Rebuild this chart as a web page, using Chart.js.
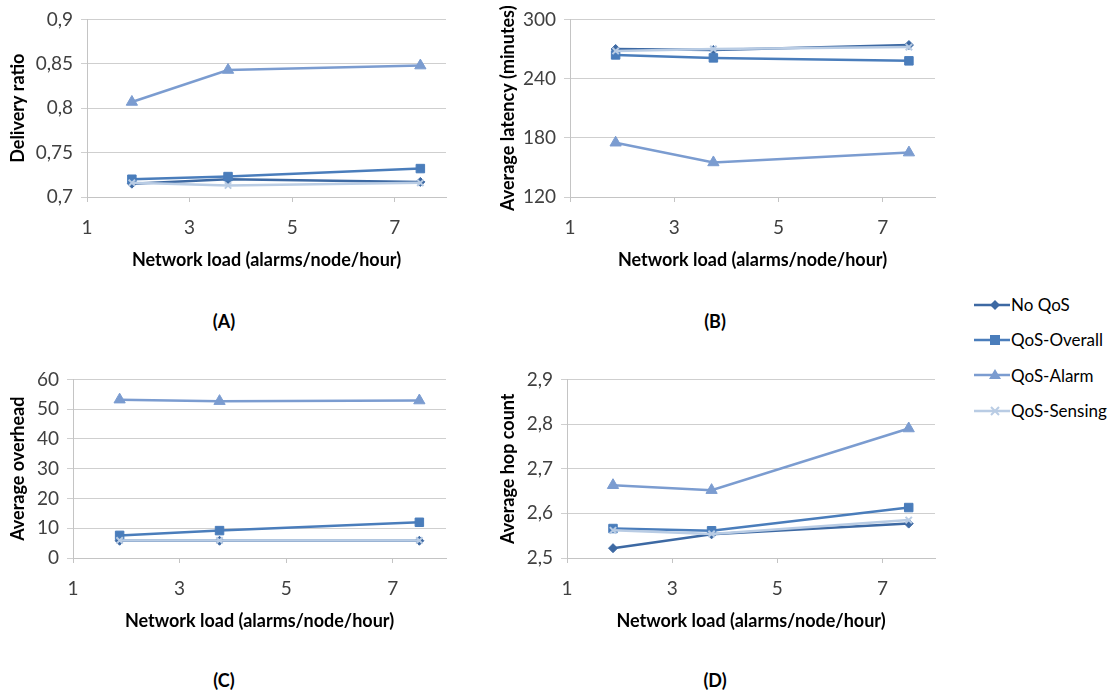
<!DOCTYPE html>
<html><head><meta charset="utf-8">
<script src="https://cdn.jsdelivr.net/npm/chart.js@4.4.0/dist/chart.umd.min.js"></script>
<style>
body{margin:0;background:#fff;width:1118px;height:693px;position:relative;overflow:hidden;font-family:Lato,"Open Sans",sans-serif;}
.pc{position:absolute;}
.lbl{position:absolute;font-weight:bold;font-size:18px;color:#000;transform:translate(-50%,-50%);white-space:nowrap;}
#legend{position:absolute;left:974px;top:287px;}
.li{display:flex;align-items:center;height:35.3px;font-size:17px;color:#000;white-space:nowrap;}
.li svg{margin-right:1px;}
</style></head><body>
<div class="pc" style="left:0;top:0;width:480px;height:285px"><canvas id="cA"></canvas></div>
<div class="pc" style="left:490px;top:0;width:470px;height:285px"><canvas id="cB"></canvas></div>
<div class="pc" style="left:0;top:360px;width:480px;height:290px"><canvas id="cC"></canvas></div>
<div class="pc" style="left:490px;top:360px;width:470px;height:290px"><canvas id="cD"></canvas></div>
<div class="lbl" style="left:224px;top:321px">(A)</div>
<div class="lbl" style="left:715px;top:321px">(B)</div>
<div class="lbl" style="left:224px;top:680px">(C)</div>
<div class="lbl" style="left:715px;top:680px">(D)</div>
<div id="legend"></div>
<script>
// ---- data ----
const loads = [1.875, 3.75, 7.5];
const seriesNames = ['No QoS', 'QoS-Overall', 'QoS-Alarm', 'QoS-Sensing'];
const xTickValues = [1, 3, 5, 7];

const deliveryNoQoS   = [0.715, 0.720, 0.717];
const deliveryOverall = [0.720, 0.723, 0.732];
const deliveryAlarm   = [0.807, 0.843, 0.848];
const deliverySensing = [0.716, 0.713, 0.716];
const deliveryTicks   = [0.7, 0.75, 0.8, 0.85, 0.9];

const latencyNoQoS   = [270, 269, 274];
const latencyOverall = [264, 261, 258];
const latencyAlarm   = [175, 155, 165];
const latencySensing = [268, 270, 272];
const latencyTicks   = [120, 180, 240, 300];

const overheadNoQoS   = [5.8, 5.8, 5.8];
const overheadOverall = [7.6, 9.2, 12.0];
const overheadAlarm   = [53.2, 52.7, 52.9];
const overheadSensing = [5.9, 5.9, 5.9];
const overheadTicks   = [0, 10, 20, 30, 40, 50, 60];

const hopNoQoS   = [2.522, 2.553, 2.577];
const hopOverall = [2.566, 2.561, 2.613];
const hopAlarm   = [2.663, 2.652, 2.790];
const hopSensing = [2.562, 2.554, 2.585];
const hopTicks   = [2.5, 2.6, 2.7, 2.8, 2.9];

const xTitle = 'Network load (alarms/node/hour)';

// ---- styles ----
const colors = ['#3d69a3', '#4a7dbb', '#7b9cd0', '#b9cce4'];
const pStyles = ['rectRot', 'rect', 'triangle', 'crossRot'];
const pRadius = [4.5, 6, 6.5, 4.5];
const FONT = 'Lato, "Open Sans", sans-serif';
const TITLE_SIZE = 18;

function fmt(v){ return String(parseFloat(v.toFixed(3))).replace('.', ','); }

function makePanel(id, box, plot, yTitle, yTicks, series, xTitleY, yTitleX){
  const lhT = TITLE_SIZE*1.2;
  const ds = series.map((vals, i) => ({
    label: seriesNames[i],
    data: loads.map((x, k) => ({x: x, y: vals[k]})),
    borderColor: colors[i], backgroundColor: colors[i],
    borderWidth: 2.5, pointStyle: pStyles[i], pointRadius: pRadius[i],
    pointBorderWidth: i === 3 ? 2 : 1, pointBorderColor: colors[i],
    pointBackgroundColor: colors[i], tension: 0, clip: false, order: 4 - i
  }));
  new Chart(document.getElementById(id), {
    type: 'line',
    data: {datasets: ds},
    options: {
      responsive: true, maintainAspectRatio: false, animation: false,
      layout: {padding: {left: 0, top: plot.t - box.t, right: box.l + box.w - plot.r, bottom: 0}},
      plugins: {legend: {display: false}, tooltip: {enabled: false}},
      scales: {
        x: {
          type: 'linear', min: 1, max: 8,
          afterBuildTicks: s => { s.ticks = xTickValues.map(v => ({value: v})); },
          afterFit: s => { s.height = box.t + box.h - plot.b; },
          grid: {display: true, drawOnChartArea: false, drawTicks: true, tickLength: 5, color: '#c4c4c4', lineWidth: 1},
          border: {display: true, color: '#c4c4c4', width: 1},
          ticks: {color: '#404040', font: {family: FONT, size: 19}, padding: 14, maxRotation: 0, callback: v => fmt(v)},
          title: {display: true, text: xTitle, color: '#000', font: {family: FONT, size: TITLE_SIZE, weight: 'bold'},
                  padding: {top: 0, bottom: box.t + box.h - xTitleY - lhT/2}}
        },
        y: {
          type: 'linear', min: yTicks[0], max: yTicks[yTicks.length - 1],
          afterBuildTicks: s => { s.ticks = yTicks.map(v => ({value: v})); },
          afterFit: s => { s.width = plot.l - box.l; },
          grid: {display: true, drawTicks: true, tickLength: 6, color: '#cfcfcf', lineWidth: 1},
          border: {display: true, color: '#c4c4c4', width: 1},
          ticks: {color: '#404040', font: {family: FONT, size: 19}, padding: 8, callback: v => fmt(v)},
          title: {display: true, text: yTitle, color: '#000', font: {family: FONT, size: TITLE_SIZE, weight: 'bold'},
                  padding: {top: yTitleX - box.l - lhT/2, bottom: 0}}
        }
      }
    }
  });
}

makePanel('cA', {l:0, t:0, w:480, h:285}, {l:87, t:17, r:446, b:197}, 'Delivery ratio', deliveryTicks,
  [deliveryNoQoS, deliveryOverall, deliveryAlarm, deliverySensing], 260, 18);
makePanel('cB', {l:490, t:0, w:470, h:285}, {l:570, t:17, r:935, b:197}, 'Average latency (minutes)', latencyTicks,
  [latencyNoQoS, latencyOverall, latencyAlarm, latencySensing], 260, 508);
makePanel('cC', {l:0, t:360, w:480, h:290}, {l:73, t:377, r:446, b:558}, 'Average overhead', overheadTicks,
  [overheadNoQoS, overheadOverall, overheadAlarm, overheadSensing], 621, 18);
makePanel('cD', {l:490, t:360, w:470, h:290}, {l:567, t:377, r:935, b:558}, 'Average hop count', hopTicks,
  [hopNoQoS, hopOverall, hopAlarm, hopSensing], 621, 508);

// ---- legend ----
const markerSvg = [
  c => `<polygon points="21,3 26,8 21,13 16,8" fill="${c}"/>`,
  c => `<rect x="16" y="3" width="10" height="10" fill="${c}"/>`,
  c => `<polygon points="21,2 27,12 15,12" fill="${c}"/>`,
  c => `<path d="M17,4 L25,12 M25,4 L17,12" stroke="${c}" stroke-width="2"/>`
];
const leg = document.getElementById('legend');
seriesNames.forEach((n, i) => {
  const d = document.createElement('div');
  d.className = 'li';
  d.innerHTML = `<svg width="36" height="16"><line x1="0" y1="8" x2="36" y2="8" stroke="${colors[i]}" stroke-width="2.5"/>${markerSvg[i](colors[i])}</svg><span>${n}</span>`;
  leg.appendChild(d);
});
</script>
</body></html>
